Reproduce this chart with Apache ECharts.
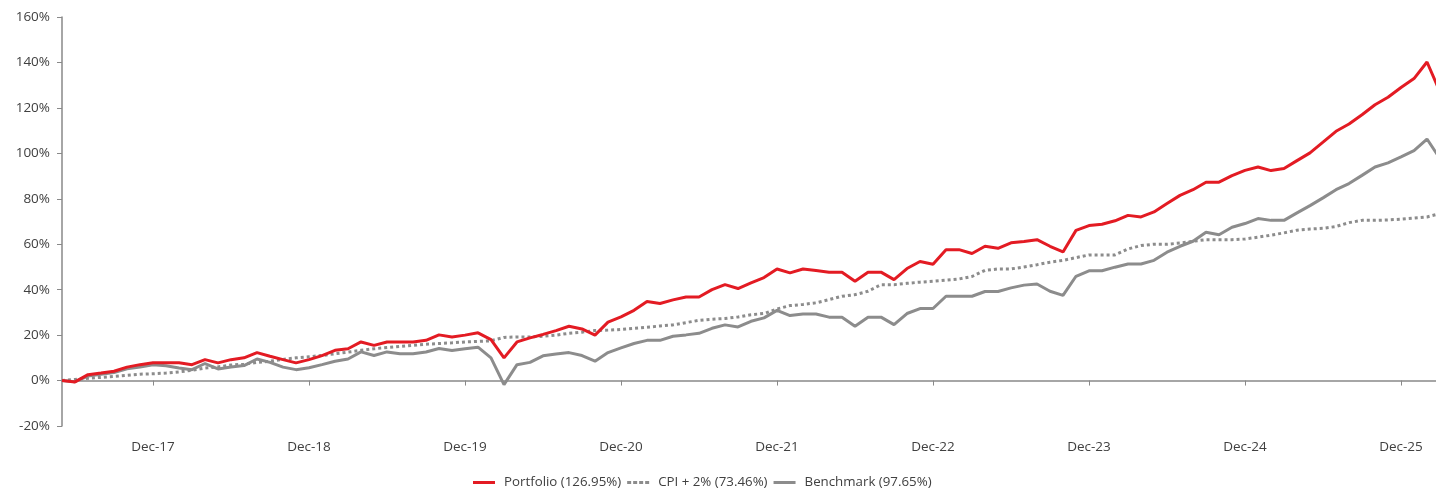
<!DOCTYPE html>
<html>
<head>
<meta charset="utf-8">
<title>Cumulative performance</title>
<script src="https://cdn.jsdelivr.net/npm/echarts@6/dist/echarts.min.js"></script>
<style>
  html, body { margin: 0; padding: 0; background: #fff; }
  #chart { width: 1436px; height: 490px; }
</style>
</head>
<body>
<div id="chart"></div>
<script>
// monthly points, May-17 .. Mar-26
const months = [
  'May-17', 'Jun-17', 'Jul-17', 'Aug-17', 'Sep-17', 'Oct-17', 'Nov-17', 'Dec-17',
  'Jan-18', 'Feb-18', 'Mar-18', 'Apr-18', 'May-18', 'Jun-18', 'Jul-18', 'Aug-18', 'Sep-18', 'Oct-18', 'Nov-18', 'Dec-18',
  'Jan-19', 'Feb-19', 'Mar-19', 'Apr-19', 'May-19', 'Jun-19', 'Jul-19', 'Aug-19', 'Sep-19', 'Oct-19', 'Nov-19', 'Dec-19',
  'Jan-20', 'Feb-20', 'Mar-20', 'Apr-20', 'May-20', 'Jun-20', 'Jul-20', 'Aug-20', 'Sep-20', 'Oct-20', 'Nov-20', 'Dec-20',
  'Jan-21', 'Feb-21', 'Mar-21', 'Apr-21', 'May-21', 'Jun-21', 'Jul-21', 'Aug-21', 'Sep-21', 'Oct-21', 'Nov-21', 'Dec-21',
  'Jan-22', 'Feb-22', 'Mar-22', 'Apr-22', 'May-22', 'Jun-22', 'Jul-22', 'Aug-22', 'Sep-22', 'Oct-22', 'Nov-22', 'Dec-22',
  'Jan-23', 'Feb-23', 'Mar-23', 'Apr-23', 'May-23', 'Jun-23', 'Jul-23', 'Aug-23', 'Sep-23', 'Oct-23', 'Nov-23', 'Dec-23',
  'Jan-24', 'Feb-24', 'Mar-24', 'Apr-24', 'May-24', 'Jun-24', 'Jul-24', 'Aug-24', 'Sep-24', 'Oct-24', 'Nov-24', 'Dec-24',
  'Jan-25', 'Feb-25', 'Mar-25', 'Apr-25', 'May-25', 'Jun-25', 'Jul-25', 'Aug-25', 'Sep-25', 'Oct-25', 'Nov-25', 'Dec-25',
  'Jan-26', 'Feb-26', 'Mar-26'
]

const portfolio = [
  0, -0.6, 2.6, 3.3, 4.1, 5.9, 7.0, 7.8,
  7.8, 7.8, 7.0, 9.2, 7.8, 9.2, 10.0, 12.3, 10.7, 9.2, 7.8, 9.2,
  11.0, 13.3, 14.0, 17.0, 15.5, 17.0, 17.0, 17.0, 17.7, 20.1, 19.2, 20.0,
  21.0, 18.0, 10.0, 17.0, 18.8, 20.3, 22.0, 23.9, 22.7, 20.0, 25.7, 28.0,
  30.9, 34.8, 33.9, 35.5, 36.8, 36.8, 40.0, 42.2, 40.5, 43.0, 45.3, 49.1,
  47.4, 49.1, 48.4, 47.7, 47.7, 43.7, 47.7, 47.7, 44.4, 49.3, 52.4, 51.2,
  57.6, 57.6, 55.9, 59.1, 58.2, 60.6, 61.2, 62.0, 59.1, 56.6, 66.1, 68.2,
  68.8, 70.3, 72.7, 72.0, 74.2, 77.9, 81.5, 84.0, 87.3, 87.3, 90.2, 92.5,
  94.0, 92.4, 93.3, 96.8, 100.2, 104.9, 109.7, 112.9, 117.0, 121.4, 124.7, 129.0,
  132.9, 140.2, 126.95
]

const cpi = [
  0, 0.5, 1.0, 1.4, 1.8, 2.3, 2.8, 3.0,
  3.3, 3.8, 4.5, 5.5, 6.0, 6.8, 7.2, 8.0, 8.5, 9.3, 10.0, 10.5,
  11.0, 11.8, 12.5, 13.3, 14.0, 14.5, 15.0, 15.5, 16.0, 16.3, 16.6, 17.0,
  17.2, 17.5, 19.0, 19.2, 19.2, 19.5, 20.0, 20.8, 21.3, 22.0, 22.2, 22.5,
  23.0, 23.5, 24.0, 24.5, 25.5, 26.5, 27.0, 27.3, 28.0, 29.0, 29.5, 31.5,
  33.0, 33.5, 34.2, 35.6, 37.1, 37.8, 39.3, 42.2, 42.2, 42.8, 43.3, 43.7,
  44.2, 44.7, 45.8, 48.5, 49.1, 49.1, 50.0, 51.0, 52.1, 52.9, 54.1, 55.3,
  55.3, 55.3, 57.9, 59.4, 60.0, 60.0, 60.5, 61.3, 62.0, 62.0, 62.0, 62.3,
  63.1, 64.0, 65.0, 66.2, 66.7, 67.0, 67.8, 69.5, 70.5, 70.5, 70.7, 71.0,
  71.5, 72.0, 73.46
]

const benchmark = [
  0, -0.5, 2.0, 2.8, 3.5, 5.2, 6.0, 7.0,
  6.5, 5.5, 4.8, 7.5, 5.1, 6.0, 6.6, 9.5, 8.0, 5.9, 4.8, 5.6,
  7.0, 8.5, 9.5, 12.6, 11.0, 12.6, 11.8, 11.8, 12.6, 14.1, 13.2, 14.0,
  14.7, 10.0, -1.8, 7.0, 8.0, 10.9, 11.7, 12.3, 11.0, 8.5, 12.3, 14.4,
  16.3, 17.7, 17.7, 19.5, 20.1, 20.8, 23.0, 24.5, 23.6, 26.1, 27.6, 30.9,
  28.6, 29.3, 29.3, 27.9, 27.9, 23.9, 27.9, 27.9, 24.6, 29.5, 31.7, 31.7,
  37.1, 37.1, 37.1, 39.2, 39.2, 40.8, 42.0, 42.5, 39.3, 37.5, 45.9, 48.3,
  48.3, 49.9, 51.3, 51.3, 52.9, 56.5, 59.1, 61.3, 65.3, 64.2, 67.5, 69.1,
  71.3, 70.5, 70.5, 73.8, 77.0, 80.4, 84.0, 86.7, 90.3, 94.0, 95.8, 98.4,
  101.2, 106.3, 97.65
]

const seriesNames = ['Portfolio (126.95%)', 'CPI + 2% (73.46%)', 'Benchmark (97.65%)']

const red = '#e31b23'
const grey = '#8c8c8c'
const axisColor = '#898989'
const textColor = '#404040'
const fontFamily = '"Open Sans", "Noto Sans", sans-serif'

// legend marks: solid bar, and four square dots for the CPI line
const solidIcon = 'path://M0,0h22v3h-22z'
const dotIcon = 'path://M0,0h4v3h-4z M6,0h4v3h-4z M12,0h4v3h-4z M18,0h4v3h-4z'

const isDec = (index, value) => value.indexOf('Dec') === 0

const chart = echarts.init(document.getElementById('chart'))

chart.setOption({
  animation: false,
  textStyle: {
    fontFamily: fontFamily,
  },
  grid: {
    left: 62,
    right: -4,
    top: 17,
    bottom: 64,
    outerBoundsMode: 'none',
  },
  legend: {
    left: 473,
    top: 476,
    padding: 0,
    itemWidth: 22,
    itemHeight: 3,
    itemGap: 6,
    textStyle: {
      color: textColor,
      fontSize: 13.3,
      fontFamily: fontFamily,
      padding: [0, 0, 0, 4],
    },
    data: [
      {name: seriesNames[0], icon: solidIcon, itemStyle: {color: red}},
      {name: seriesNames[1], icon: dotIcon, itemStyle: {color: grey}},
      {name: seriesNames[2], icon: solidIcon, itemStyle: {color: grey}},
    ],
  },
  xAxis: {
    type: 'category',
    boundaryGap: false,
    data: months,
    axisLine: {
      onZero: true,
      lineStyle: {
        color: axisColor,
        width: 1.5,
      },
    },
    axisTick: {
      interval: isDec,
      length: 5,
      lineStyle: {
        color: axisColor,
      },
    },
    axisLabel: {
      interval: isDec,
      margin: 14,
      color: textColor,
      fontSize: 13.5,
    },
    splitLine: {
      show: false,
    },
  },
  yAxis: {
    type: 'value',
    min: -20,
    max: 160,
    interval: 20,
    axisLine: {
      show: true,
      lineStyle: {
        color: axisColor,
        width: 1.5,
      },
    },
    axisTick: {
      show: true,
      length: 5,
      lineStyle: {
        color: axisColor,
      },
    },
    axisLabel: {
      formatter: '{value}%',
      margin: 12,
      color: textColor,
      fontSize: 13.5,
    },
    splitLine: {
      show: false,
    },
  },
  series: [
    {
      name: seriesNames[2],
      type: 'line',
      data: benchmark,
      symbol: 'none',
      z: 2,
      lineStyle: {
        color: grey,
        width: 3,
      },
      itemStyle: {
        color: grey,
      },
    },
    {
      name: seriesNames[1],
      type: 'line',
      data: cpi,
      symbol: 'none',
      z: 3,
      lineStyle: {
        color: grey,
        width: 3,
        type: [3, 3],
        cap: 'butt',
      },
      itemStyle: {
        color: grey,
      },
    },
    {
      name: seriesNames[0],
      type: 'line',
      data: portfolio,
      symbol: 'none',
      z: 4,
      lineStyle: {
        color: red,
        width: 3,
      },
      itemStyle: {
        color: red,
      },
    },
  ],
})
</script>
</body>
</html>
